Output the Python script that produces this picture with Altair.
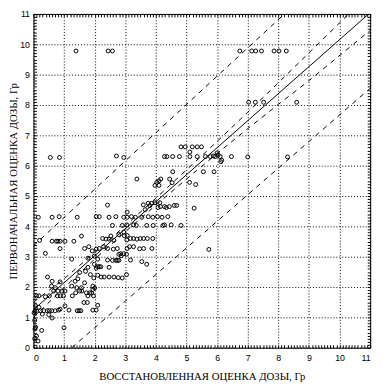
import altair as alt
import pandas as pd

# ---- scatter data ----
x_vals = [
    1.39, 2.44, 2.58,
    6.74, 7.13, 7.26, 7.45, 7.86, 8.02, 8.26,
    7.03, 7.25, 7.52, 8.60,
    0.55, 0.85, 2.71, 2.95, 3.38, 8.30, 7.00, 5.73,
    4.82, 4.96, 5.19, 5.35, 5.49,
    4.28, 4.36, 4.55, 4.77, 5.11, 5.11, 5.35, 5.62, 5.78, 5.88, 5.94, 6.03, 6.10, 6.00, 6.12, 6.47, 6.15,
    4.55, 5.55, 5.90,
    3.97, 4.03, 4.10, 4.16, 4.45, 4.53, 4.10, 5.10, 5.30, 5.25, 4.82,
    3.75, 3.80, 3.86, 3.97, 4.13, 4.07, 4.15, 4.28, 4.34, 4.44, 4.60, 4.68, 3.65, 3.59, 2.42, 3.06,
    0.16, 0.61, 0.84, 1.43, 2.05, 2.15, 2.47, 2.69, 2.95, 3.06, 3.20, 3.33, 3.54, 3.75, 3.90, 4.05, 4.20, 4.39,
    2.58, 2.90, 3.05, 3.27, 3.36, 3.70, 3.91, 4.23, 4.28, 4.50,
    0.20, 0.61, 0.75, 0.80, 0.87, 1.03, 1.32, 1.57,
    2.26, 2.37, 2.47, 2.53, 2.63, 2.79, 2.95, 2.97, 3.06, 3.05, 3.17, 3.38, 3.49, 3.60, 3.72, 3.90, 3.27,
    0.39, 0.87,
    1.67, 1.81, 1.92, 2.05, 2.15, 2.29, 2.42, 2.61, 2.74, 3.06, 3.14, 3.27, 3.47, 3.60, 3.87,
    2.79, 2.85, 2.95, 3.04,
    1.25, 1.78, 1.99, 2.10, 2.42, 2.58, 2.69, 2.74, 2.79, 2.87, 3.17, 3.54, 3.70,
    1.99, 2.05, 2.10, 2.15, 2.20, 2.47, 1.78, 1.51, 1.70, 1.86, 2.10, 1.97,
    2.21, 2.31, 2.47, 2.63, 2.77, 2.90, 3.04,
    0.46, 0.61, 0.87, 0.59, 0.71, 0.66, 0.80, 0.93, 1.03, 0.52, 0.78, 0.88, 0.98,
    1.25, 1.41, 1.57, 1.45, 1.36, 1.67, 1.38, 1.27, 1.51, 1.58, 1.73, 1.84, 1.94, 1.78, 1.96, 1.94, 1.90, 2.00,
    1.65, 1.76, 1.03, 1.16, 1.94, 2.05, 2.10, 1.43, 1.55, 1.49,
    0.18, 0.10, 0.39, 0.07, 0.18, 0.11, 0.23, 0.34, 0.45, 0.52, 0.60, 0.71, 0.82, 0.50, 0.29, 0.61,
    0.04, 0.07, 0.05, 0.10, 0.04, 0.15, 0.27, 1.00, 0.87, 0.05, 0.02,
]
y_vals = [
    9.78, 9.78, 9.78,
    9.78, 9.78, 9.78, 9.78, 9.78, 9.78, 9.78,
    8.09, 8.09, 8.09, 8.09,
    6.27, 6.27, 6.32, 6.27, 5.56, 6.29, 6.29, 3.24,
    6.62, 6.62, 6.62, 6.62, 6.62,
    6.30, 6.30, 6.30, 6.30, 6.30, 6.45, 6.30, 6.30, 6.30, 6.32, 6.30, 6.35, 6.30, 6.42, 6.13, 6.30, 6.18,
    5.80, 5.80, 5.80,
    5.35, 5.45, 5.50, 5.56, 5.56, 5.44, 5.35, 5.45, 5.38, 4.60, 4.03,
    4.76, 4.68, 4.76, 4.78, 4.78, 4.62, 4.65, 4.65, 4.62, 4.65, 4.69, 4.69, 4.55, 4.71, 4.70, 4.47,
    4.30, 4.30, 4.32, 4.30, 4.32, 4.32, 4.30, 4.32, 4.30, 4.30, 4.32, 4.30, 4.30, 4.32, 4.30, 4.32, 4.30, 4.32,
    4.03, 4.03, 4.05, 4.05, 4.03, 4.03, 4.03, 4.03, 4.05, 4.05,
    3.54, 3.51, 3.51, 3.51, 3.51, 3.51, 3.51, 3.68,
    3.60, 3.58, 3.58, 3.68, 3.54, 3.73, 3.81, 3.69, 3.70, 3.55, 3.60, 3.58, 3.60, 3.60, 3.60, 3.60, 3.60,
    3.11, 3.27,
    3.27, 3.33, 3.19, 3.25, 3.27, 3.33, 3.27, 3.25, 3.27, 3.27, 3.33, 3.33, 3.26, 3.27, 3.27,
    3.08, 3.10, 3.10, 3.08,
    2.92, 2.95, 3.02, 2.92, 2.89, 2.88, 2.88, 2.88, 2.88, 3.03, 2.89, 2.84, 2.75,
    2.75, 2.62, 2.67, 2.67, 2.67, 2.65, 2.65, 2.48, 2.52, 2.41, 2.39, 2.30,
    2.33, 2.33, 2.33, 2.33, 2.31, 2.30, 2.41,
    2.33, 2.19, 2.17, 2.03, 1.98, 1.87, 1.87, 1.87, 1.87, 1.71, 1.71, 1.71, 1.71,
    2.03, 1.98, 1.98, 2.27, 2.19, 2.14, 1.81, 1.71, 1.87, 1.87, 1.81, 1.81, 1.92, 1.71, 1.71, 2.03, 1.80, 1.97,
    1.49, 1.49, 1.38, 1.24, 1.24, 1.24, 1.40, 1.22, 1.22, 1.22,
    1.71, 1.71, 1.68, 1.38, 1.33, 1.20, 1.22, 1.22, 1.22, 1.22, 1.22, 1.22, 1.24, 1.09, 1.11, 0.98,
    0.90, 0.68, 0.62, 0.38, 0.30, 0.22, 0.57, 0.66, 1.27, 1.20, 1.15,
]

# ---- fitted line and bands ----
fit_x = [0.0, 10.95]
fit_y = [1.25, 11.0]
ci_up_x = [0, 1, 2, 3, 4, 5, 6, 7, 8, 9, 10.3]
ci_up_y = [1.50, 2.27, 3.14, 4.02, 4.93, 5.86, 6.80, 7.76, 8.73, 9.72, 11.0]
ci_lo_x = [0, 1, 2, 3, 4, 5, 6, 7, 8, 9, 11]
ci_lo_y = [1.00, 1.98, 2.92, 3.82, 4.70, 5.56, 6.40, 7.22, 8.02, 8.80, 10.46]
pi_up_x = [0.0, 8.2]
pi_up_y = [3.36, 11.0]
pi_lo_x = [1.25, 11.0]
pi_lo_y = [0.0, 8.55]

x_title = "ВОССТАНОВЛЕННАЯ ОЦЕНКА ДОЗЫ, Гр"
y_title = "ПЕРВОНАЧАЛЬНАЯ ОЦЕНКА ДОЗЫ, Гр"
major_ticks = list(range(0, 12))
minor_ticks = [i / 10 for i in range(0, 111)]

pts = pd.DataFrame({"x": x_vals, "y": y_vals})
fit_df = pd.DataFrame({"x": fit_x, "y": fit_y, "line": "fit"})
band_df = pd.concat([
    pd.DataFrame({"x": ci_up_x, "y": ci_up_y, "line": "ci_up"}),
    pd.DataFrame({"x": ci_lo_x, "y": ci_lo_y, "line": "ci_lo"}),
    pd.DataFrame({"x": pi_up_x, "y": pi_up_y, "line": "pi_up"}),
    pd.DataFrame({"x": pi_lo_x, "y": pi_lo_y, "line": "pi_lo"}),
])

W, H = 344, 341
sx = alt.Scale(domain=[0, 11], nice=False, zero=False)
sy = alt.Scale(domain=[0, 11], nice=False, zero=False)

LABEL_FONT = "Liberation Sans"
TITLE_FONT = "Liberation Serif"

main_x = alt.Axis(values=major_ticks, grid=True, gridColor="black", gridOpacity=1,
                  gridDash=[1, 2], gridWidth=1, ticks=False, tickSize=0, domain=False,
                  labelFont=LABEL_FONT, labelFontSize=9, labelColor="black",
                  labelPadding=6, title=x_title, titleFont=TITLE_FONT, titleFontSize=11,
                  titleFontWeight="normal", titleColor="black", titlePadding=8)
main_y = alt.Axis(values=major_ticks, grid=True, gridColor="black", gridOpacity=1,
                  gridDash=[1, 2], gridWidth=1, ticks=False, tickSize=0, domain=False,
                  labelFont=LABEL_FONT, labelFontSize=9, labelColor="black",
                  labelPadding=4, title=y_title, titleFont=TITLE_FONT, titleFontSize=11,
                  titleFontWeight="normal", titleColor="black", titleX=-15,
                  titleY=H / 2, titleAlign="center", titleAngle=270,
                  titleBaseline="bottom")

points = alt.Chart(pts).mark_point(shape="circle", filled=False, color="black",
                                   size=16, strokeWidth=1, opacity=1).encode(
    x=alt.X("x:Q", scale=sx, axis=main_x),
    y=alt.Y("y:Q", scale=sy, axis=main_y),
)

fit = alt.Chart(fit_df).mark_line(color="black", strokeWidth=1, clip=True).encode(
    x=alt.X("x:Q", scale=sx, axis=None),
    y=alt.Y("y:Q", scale=sy, axis=None),
    detail="line:N",
)
bands = alt.Chart(band_df).mark_line(color="black", strokeWidth=1, strokeDash=[5, 5],
                                     clip=True).encode(
    x=alt.X("x:Q", scale=sx, axis=None),
    y=alt.Y("y:Q", scale=sy, axis=None),
    detail="line:N",
)


def tick_axis(orient, offset):
    return alt.Axis(orient=orient, offset=offset, values=minor_ticks, labels=False,
                    domain=False, grid=False, ticks=True, tickSize=3, tickColor="black",
                    tickWidth=1, title=None)


ticks_a = alt.Chart(pts).mark_point(opacity=0, size=1).encode(
    x=alt.X("x:Q", scale=sx, axis=tick_axis("top", -H)),
    y=alt.Y("y:Q", scale=sy, axis=tick_axis("right", -W)),
)
ticks_b = alt.Chart(pts).mark_point(opacity=0, size=1).encode(
    x=alt.X("x:Q", scale=sx, axis=tick_axis("bottom", -H)),
    y=alt.Y("y:Q", scale=sy, axis=tick_axis("left", -W)),
)

chart = alt.layer(points, fit, bands, ticks_a, ticks_b).resolve_axis(
    x="independent", y="independent"
).properties(
    width=W, height=H,
    autosize=alt.AutoSizeParams(type="none"),
    padding={"left": 26, "top": 2, "right": 8, "bottom": 35},
    background="white",
).configure_view(stroke="black", strokeWidth=1)

chart.save("out.html", embed_options={"renderer": "svg", "actions": False})
